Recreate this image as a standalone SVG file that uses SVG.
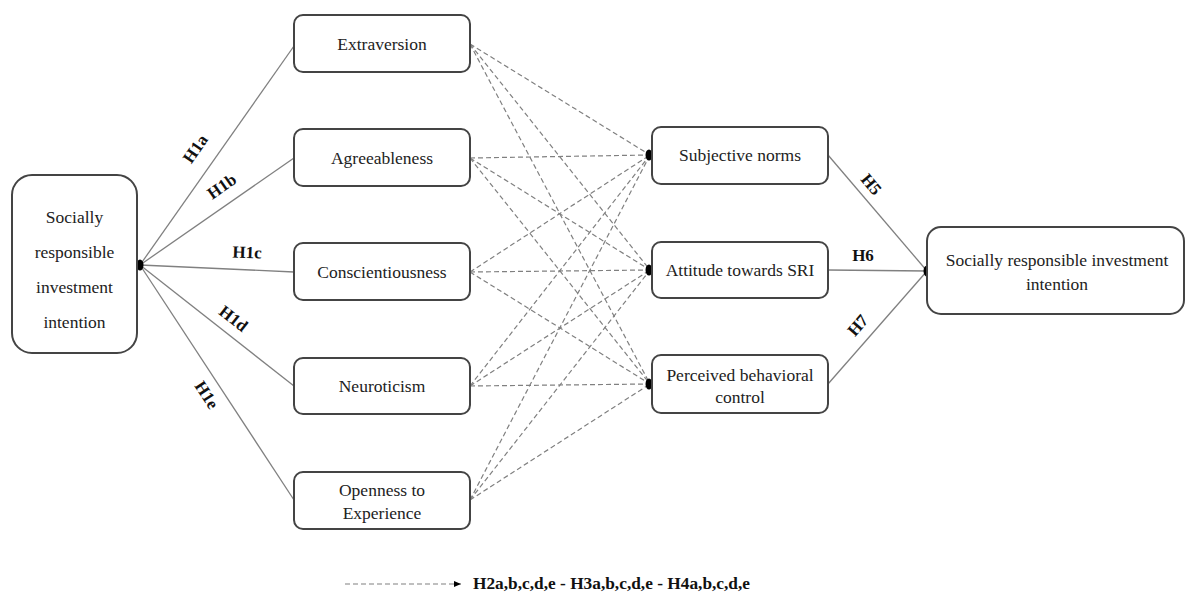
<svg xmlns="http://www.w3.org/2000/svg" width="1186" height="595" viewBox="0 0 1186 595">
<style>
.box{fill:#fff;stroke:#444;stroke-width:2}
.t{font-family:"Liberation Serif","Times New Roman",serif;font-size:17.5px;fill:#222;text-anchor:middle}
.lbl{font-family:"Liberation Serif","Times New Roman",serif;font-size:17px;font-weight:bold;fill:#111;text-anchor:middle}
.solid{stroke:#808080;stroke-width:1.3;fill:none}
.dash{stroke:#808080;stroke-width:1.2;stroke-dasharray:5 3;fill:none}
.dot{fill:#000}
</style>
<defs>
<marker id="ah" markerWidth="8" markerHeight="8" refX="7" refY="4" orient="auto" markerUnits="userSpaceOnUse">
<path d="M0,1 L7,4 L0,7 Z" fill="#000"/>
</marker>
</defs>
<g id="connectors">
<line class="solid" x1="140" y1="265" x2="294" y2="46"/>
<line class="solid" x1="140" y1="265" x2="294" y2="158"/>
<line class="solid" x1="140" y1="265" x2="294" y2="272"/>
<line class="solid" x1="140" y1="265" x2="294" y2="386"/>
<line class="solid" x1="140" y1="265" x2="294" y2="500"/>
<line class="dash" x1="470" y1="44" x2="650" y2="155"/>
<line class="dash" x1="470" y1="44" x2="650" y2="270"/>
<line class="dash" x1="470" y1="44" x2="650" y2="384"/>
<line class="dash" x1="470" y1="158" x2="650" y2="155"/>
<line class="dash" x1="470" y1="158" x2="650" y2="270"/>
<line class="dash" x1="470" y1="158" x2="650" y2="384"/>
<line class="dash" x1="470" y1="272" x2="650" y2="155"/>
<line class="dash" x1="470" y1="272" x2="650" y2="270"/>
<line class="dash" x1="470" y1="272" x2="650" y2="384"/>
<line class="dash" x1="470" y1="386" x2="650" y2="155"/>
<line class="dash" x1="470" y1="386" x2="650" y2="270"/>
<line class="dash" x1="470" y1="386" x2="650" y2="384"/>
<line class="dash" x1="470" y1="500" x2="650" y2="155"/>
<line class="dash" x1="470" y1="500" x2="650" y2="270"/>
<line class="dash" x1="470" y1="500" x2="650" y2="384"/>
<line class="solid" x1="828" y1="155" x2="927" y2="271"/>
<line class="solid" x1="828" y1="270" x2="927" y2="271"/>
<line class="solid" x1="828" y1="384" x2="927" y2="271"/>
<ellipse class="dot" cx="140" cy="265" rx="3.5" ry="5.5"/>
<ellipse class="dot" cx="649" cy="155" rx="3.5" ry="5.5"/>
<ellipse class="dot" cx="649" cy="270" rx="3.5" ry="5.5"/>
<ellipse class="dot" cx="649" cy="384" rx="3.5" ry="5.5"/>
<ellipse class="dot" cx="927" cy="271" rx="3.5" ry="5.5"/>
<text class="lbl" transform="translate(200,152) rotate(-55)">H1a</text>
<text class="lbl" transform="translate(225,191) rotate(-35)">H1b</text>
<text class="lbl" transform="translate(247,258) rotate(2)">H1c</text>
<text class="lbl" transform="translate(230,323) rotate(38)">H1d</text>
<text class="lbl" transform="translate(202,398) rotate(57)">H1e</text>
<text class="lbl" transform="translate(867,188) rotate(50)">H5</text>
<text class="lbl" transform="translate(863,261)">H6</text>
<text class="lbl" transform="translate(862,329) rotate(-49)">H7</text>
</g>
<g id="n-left">
<rect class="box" x="12" y="175" width="125" height="178" rx="20"/>
<text class="t" x="74.5" y="223">Socially</text>
<text class="t" x="74.5" y="258">responsible</text>
<text class="t" x="74.5" y="293">investment</text>
<text class="t" x="74.5" y="328">intention</text>
</g>
<g id="n-extraversion">
<rect class="box" x="294" y="15" width="176" height="57" rx="9"/>
<text class="t" x="382" y="50">Extraversion</text>
</g>
<g id="n-agreeableness">
<rect class="box" x="294" y="129" width="176" height="57" rx="9"/>
<text class="t" x="382" y="164">Agreeableness</text>
</g>
<g id="n-conscientiousness">
<rect class="box" x="294" y="243" width="176" height="57" rx="9"/>
<text class="t" x="382" y="278">Conscientiousness</text>
</g>
<g id="n-neuroticism">
<rect class="box" x="294" y="358" width="176" height="56" rx="9"/>
<text class="t" x="382" y="392">Neuroticism</text>
</g>
<g id="n-openness">
<rect class="box" x="294" y="472" width="176" height="57" rx="9"/>
<text class="t" x="382" y="496">Openness to</text>
<text class="t" x="382" y="519">Experience</text>
</g>
<g id="n-subjective">
<rect class="box" x="652" y="127" width="176" height="57" rx="9"/>
<text class="t" x="740" y="161">Subjective norms</text>
</g>
<g id="n-attitude">
<rect class="box" x="652" y="242" width="176" height="56" rx="9"/>
<text class="t" x="740" y="276">Attitude towards SRI</text>
</g>
<g id="n-pbc">
<rect class="box" x="652" y="355" width="176" height="58" rx="9"/>
<text class="t" x="740" y="381">Perceived behavioral</text>
<text class="t" x="740" y="403">control</text>
</g>
<g id="n-right">
<rect class="box" x="927" y="227" width="257" height="87" rx="14"/>
<text class="t" x="1057" y="266">Socially responsible investment</text>
<text class="t" x="1057" y="290">intention</text>
</g>
<g id="legend">
<line class="dash" x1="345" y1="584" x2="461" y2="584" marker-end="url(#ah)"/>
<text class="lbl" x="473" y="589" style="text-anchor:start;font-size:16.5px" textLength="277" lengthAdjust="spacingAndGlyphs">H2a,b,c,d,e - H3a,b,c,d,e - H4a,b,c,d,e</text>
</g>
</svg>
